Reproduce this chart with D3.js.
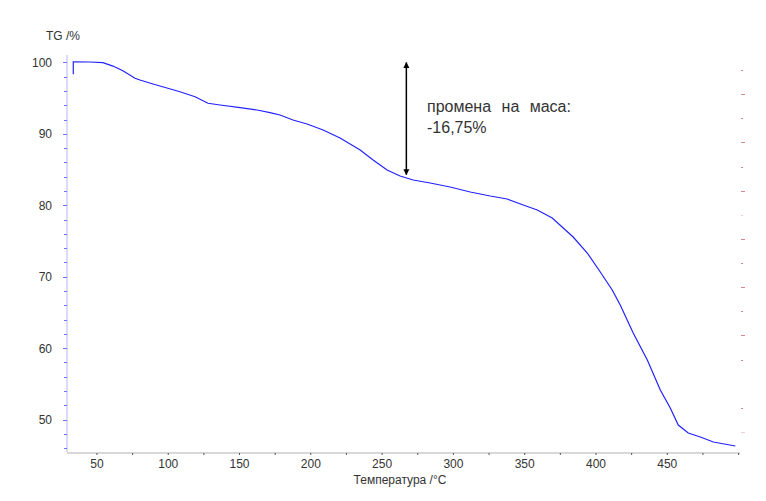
<!doctype html>
<html>
  <head>
    <meta charset="utf-8">
    <script src="https://cdn.jsdelivr.net/npm/d3@7"></script>
    <style>
      body { margin: 0; background: #fff; }
      text { font-family: "Liberation Sans", Arial, sans-serif; fill: #333; }
    </style>
  </head>
  <body>
    <svg id="chart" width="766" height="501"></svg>

    <script>
      // temperature (°C) and mass (%)
      var temps = [33.4, 33.4, 45.1, 54.2, 61.2, 68.2, 76.7, 80.2, 89.3, 99.1,
                   108.2, 118.8, 127.9, 136.3, 150.4, 162.3, 171.4, 178.4, 187.5, 197.4,
                   208.6, 220.5, 234.6, 243.7, 253.5, 262.6, 271.8, 283.7, 297.7, 311.8,
                   325.8, 337.7, 349.0, 358.8, 369.3, 384.0, 393.9, 403.0, 411.4, 417.0,
                   426.1, 436.0, 445.1, 452.1, 457.7, 464.7, 473.2, 482.3, 497.7];
      var mass  = [98.35, 100.1, 100.07, 99.97, 99.5, 98.85, 97.8, 97.55, 96.99, 96.43,
                   95.9, 95.2, 94.29, 94.05, 93.67, 93.35, 92.97, 92.65, 91.95, 91.39,
                   90.55, 89.43, 87.75, 86.34, 84.94, 84.1, 83.54, 83.12, 82.56, 81.86,
                   81.3, 80.88, 80.04, 79.34, 78.22, 75.56, 73.32, 70.66, 68.14, 66.04,
                   62.11, 58.33, 54.13, 51.61, 49.23, 48.11, 47.55, 46.85, 46.29];

      var xTickLabels = [50, 100, 150, 200, 250, 300, 350, 400, 450];
      var yTickLabels = [50, 60, 70, 80, 90, 100];
      // unlabelled secondary axis on the right (only its red ticks show)
      var rightTicks = [0, 1, 3, 4, 5, 6, 7, 8, 9, 10, 11, 12, 13, 14, 15];

      var arrowT = 267, arrowTop = 100, arrowBottom = 84.3;
      var noteLines = ["промена на маса:", "-16,75%"];

      var svg = d3.select("#chart");

      var x = d3.scaleLinear().domain([29, 501]).range([67, 740]);
      var y = d3.scaleLinear().domain([45.45, 101.05]).range([452, 55]);
      var yRight = d3.scaleLinear().domain([0, 15]).range([432, 70]);

      // x axis: light grey line with tiny dark ticks every 25
      svg.append("line")
        .attr("x1", x.range()[0]).attr("x2", x.range()[1])
        .attr("y1", 453).attr("y2", 453)
        .attr("stroke", "#d8d8d8").attr("stroke-width", 2);
      svg.append("g").selectAll("line")
        .data(d3.range(50, 501, 25))
        .enter().append("line")
          .attr("x1", function(d) { return x(d); })
          .attr("x2", function(d) { return x(d); })
          .attr("y1", 453).attr("y2", 455)
          .attr("stroke", "#555").attr("stroke-width", 1);
      svg.append("g").selectAll("text")
        .data(xTickLabels)
        .enter().append("text")
          .attr("x", function(d) { return x(d); })
          .attr("y", 468)
          .attr("text-anchor", "middle")
          .attr("font-size", 12)
          .text(function(d) { return d; });

      // y axis: pale blue line, blue ticks every 2
      svg.append("line")
        .attr("x1", 67).attr("x2", 67)
        .attr("y1", y.range()[1]).attr("y2", y.range()[0])
        .attr("stroke", "#b4b4ff").attr("stroke-width", 1);
      svg.append("g").selectAll("line")
        .data(d3.range(46, 101, 2))
        .enter().append("line")
          .attr("x1", function(d) { return d % 10 === 0 ? 63 : 64; })
          .attr("x2", 67)
          .attr("y1", function(d) { return Math.round(y(d)) + 0.5; })
          .attr("y2", function(d) { return Math.round(y(d)) + 0.5; })
          .attr("stroke", "#7070ff").attr("stroke-width", 1);
      svg.append("g").selectAll("text")
        .data(yTickLabels)
        .enter().append("text")
          .attr("x", 52)
          .attr("y", function(d) { return y(d) + 4.5; })
          .attr("text-anchor", "end")
          .attr("font-size", 12)
          .text(function(d) { return d; });

      svg.append("text")
        .attr("x", 46).attr("y", 40)
        .attr("font-size", 12)
        .text("TG /%");
      svg.append("text")
        .attr("x", 400).attr("y", 484)
        .attr("text-anchor", "middle")
        .attr("font-size", 12)
        .text("Температура /°C");

      // right-hand red ticks
      svg.append("g").selectAll("line")
        .data(rightTicks)
        .enter().append("line")
          .attr("x1", 741)
          .attr("x2", function(d) { return d % 2 === 0 ? 745 : 743; })
          .attr("y1", function(d) { return Math.round(yRight(d)) + 0.5; })
          .attr("y2", function(d) { return Math.round(yRight(d)) + 0.5; })
          .attr("stroke", "#c06060")
          .attr("stroke-opacity", function(d) { return (d === 0 || d === 9) ? 0.3 : 0.75; });

      // TG curve
      var line = d3.line()
        .x(function(d, i) { return x(temps[i]); })
        .y(function(d) { return y(d); });
      svg.append("path")
        .datum(mass)
        .attr("fill", "none")
        .attr("stroke", "#2222ff")
        .attr("stroke-width", 1.2)
        .attr("d", line);

      // double-headed arrow marking the mass change
      var defs = svg.append("defs");
      defs.append("marker")
        .attr("id", "head")
        .attr("viewBox", "0 0 10 10")
        .attr("refX", 9).attr("refY", 5)
        .attr("markerWidth", 4).attr("markerHeight", 6)
        .attr("markerUnits", "strokeWidth")
        .attr("orient", "auto-start-reverse")
        .append("path")
          .attr("d", "M0,0 L10,5 L0,10 Z")
          .attr("fill", "#000");
      svg.append("line")
        .attr("x1", x(arrowT)).attr("x2", x(arrowT))
        .attr("y1", y(arrowTop)).attr("y2", y(arrowBottom))
        .attr("stroke", "#000").attr("stroke-width", 1.5)
        .attr("marker-start", "url(#head)")
        .attr("marker-end", "url(#head)");

      svg.append("g").selectAll("text")
        .data(noteLines)
        .enter().append("text")
          .attr("x", 427)
          .attr("y", function(d, i) { return 112 + i * 21; })
          .attr("font-size", 16)
          .attr("word-spacing", 6)
          .attr("fill", "#111")
          .text(function(d) { return d; });
    </script>
  </body>
</html>
